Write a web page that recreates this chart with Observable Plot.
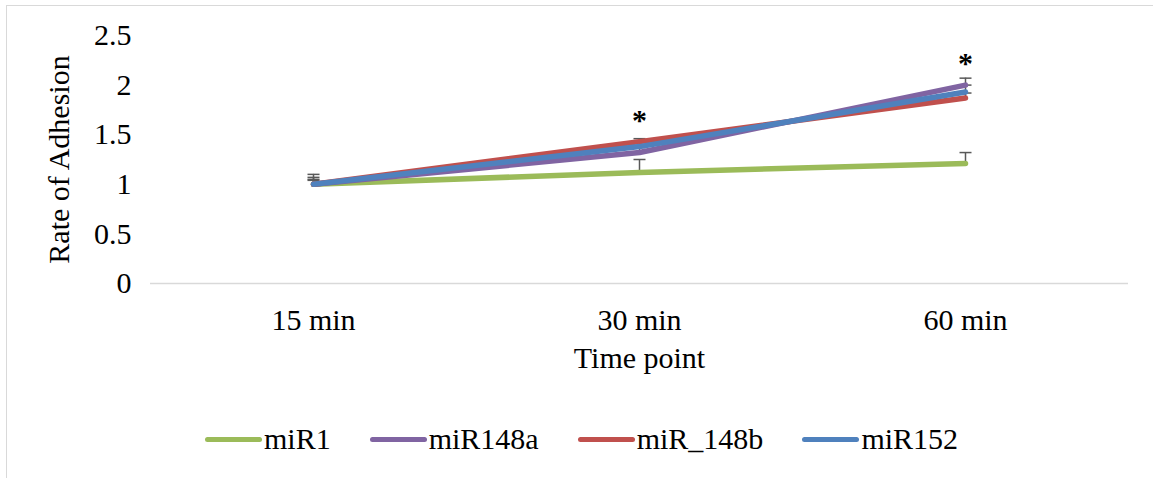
<!DOCTYPE html>
<html>
<head>
<meta charset="utf-8">
<script src="https://cdn.jsdelivr.net/npm/d3@7"></script>
<script src="https://cdn.jsdelivr.net/npm/@observablehq/plot@0.6"></script>
<style>
  html, body { margin: 0; padding: 0; background: #fff; }
  body { width: 1153px; height: 478px; position: relative; overflow: hidden; font-family: "Liberation Serif", "DejaVu Serif", Times, serif; }
  #frame { position: absolute; left: 6px; top: 5px; width: 1200px; height: 500px; border-top: 1.5px solid #d9d9d9; border-left: 1.5px solid #d9d9d9; }
  #chart { position: absolute; left: 0; top: 0; }
  #chart svg, #chart svg text { font-family: "Liberation Serif", "DejaVu Serif", Times, serif; }
  #legend { position: absolute; left: 205px; top: 422px; display: flex; align-items: center; gap: 39px; font-size: 30px; color: #000; }
  .item { display: flex; align-items: center; }
  .sw { width: 57px; height: 5px; border-radius: 3px; margin-right: 2px; }
</style>
</head>
<body>
<div id="frame"></div>
<div id="chart"></div>
<div id="legend"></div>
<script>
const timePoints = ["15 min", "30 min", "60 min"];
const seriesNames = ["miR1", "miR148a", "miR_148b", "miR152"];
const seriesColors = ["#9BBB59", "#8064A2", "#C0504D", "#4F81BD"];
const miR1 = [1.0, 1.12, 1.21];
const miR148a = [1.0, 1.32, 2.0];
const miR_148b = [1.0, 1.43, 1.87];
const miR152 = [1.0, 1.38, 1.93];
const miR1Err = [0.07, 0.13, 0.11];
const miR148aErr = [0.05, 0.05, 0.07];
const miR_148bErr = [0.04, 0.03, 0.05];
const miR152Err = [0.1, 0.04, 0.07];
const yTicks = [0, 0.5, 1, 1.5, 2, 2.5];
const starPoints = ["30 min", "60 min"];
const starValues = [1.70, 2.28];

const seriesValues = [miR1, miR148a, miR_148b, miR152];
const seriesErrs = [miR1Err, miR148aErr, miR_148bErr, miR152Err];
const data = [];
seriesNames.forEach((s, i) => timePoints.forEach((t, j) => {
  data.push({series: s, time: t, value: seriesValues[i][j], err: seriesErrs[i][j], top: seriesValues[i][j] + seriesErrs[i][j]});
}));
const stars = starPoints.map((t, i) => ({time: t, value: starValues[i]}));

const capSymbol = { draw(ctx, size) { ctx.moveTo(-6, 0); ctx.lineTo(6, 0); } };
const serif = "'Liberation Serif', 'DejaVu Serif', Times, serif";

const chart = Plot.plot({
  width: 1153,
  height: 400,
  marginLeft: 150,
  marginRight: 25,
  marginTop: 35,
  marginBottom: 117,
  style: { fontFamily: serif, fontSize: "30px", color: "#000", background: "transparent" },
  x: { type: "point", domain: timePoints, padding: 0.5, label: null },
  y: { domain: [0, 2.5], label: null },
  color: { domain: seriesNames, range: seriesColors },
  marks: [
    Plot.ruleY([0], { stroke: "#d9d9d9", strokeWidth: 1.5 }),
    Plot.axisY({ ticks: yTicks, tickSize: 0, tickPadding: 19, label: null, fontSize: 30, tickFormat: d => String(d) }),
    Plot.axisX({ tickSize: 0, tickPadding: 25, label: null, fontSize: 30 }),
    Plot.text(["Rate of Adhesion"], { frameAnchor: "left", textAnchor: "middle", dx: -91, rotate: -90, fontSize: 30 }),
    Plot.text(["Time point"], { frameAnchor: "bottom", dy: 84, fontSize: 30 }),
    Plot.ruleX(data, { x: "time", y1: "value", y2: "top", stroke: "#595959", strokeWidth: 1.5 }),
    Plot.dot(data, { x: "time", y: "top", symbol: capSymbol, stroke: "#595959", strokeWidth: 1.5, fill: "none", r: 6 }),
    Plot.line(data, { x: "time", y: "value", z: "series", stroke: "series", strokeWidth: 5.5, strokeLinecap: "round", strokeLinejoin: "round" }),
    Plot.text(stars, { x: "time", y: "value", text: () => "*", fontSize: 30, fontWeight: "bold", dy: 6 })
  ]
});
document.getElementById("chart").appendChild(chart);

const legend = document.getElementById("legend");
seriesNames.forEach((s, i) => {
  const item = document.createElement("div");
  item.className = "item";
  const sw = document.createElement("span");
  sw.className = "sw";
  sw.style.background = seriesColors[i];
  const lab = document.createElement("span");
  lab.textContent = s;
  item.appendChild(sw);
  item.appendChild(lab);
  legend.appendChild(item);
});
</script>
</body>
</html>
